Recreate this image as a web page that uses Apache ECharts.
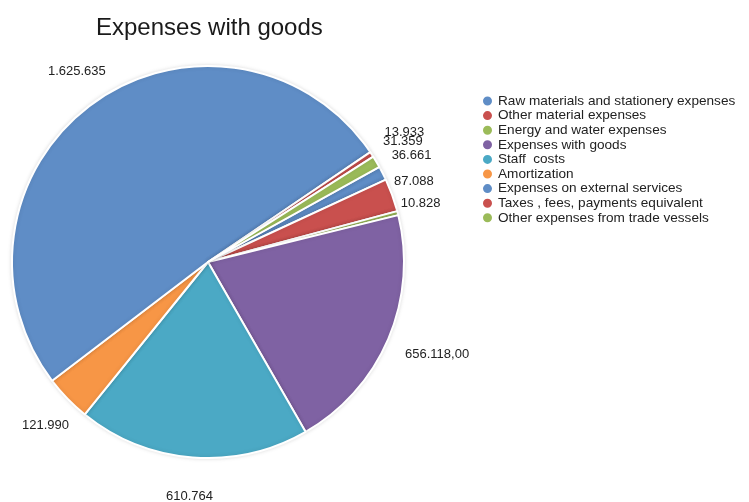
<!DOCTYPE html>
<html>
<head>
<meta charset="utf-8">
<title>Expenses with goods</title>
<script src="https://cdn.jsdelivr.net/npm/echarts@6/dist/echarts.min.js"></script>
<style>
  html, body { margin: 0; padding: 0; background: #ffffff; }
  #chart { width: 749px; height: 502px; }
</style>
</head>
<body>
<div id="chart"></div>
<script>
// Expense categories, in drawing order (clockwise)
const categories = [
  'Raw materials and stationery expenses',
  'Other material expenses',
  'Energy and water expenses',
  'Expenses with goods',
  'Staff  costs',
  'Amortization',
  'Expenses on external services',
  'Taxes , fees, payments equivalent',
  'Other expenses from trade vessels'
];
const amounts = [36661, 87088, 10828, 656118, 610764, 121990, 1625635, 13933, 31359];
const valueLabels = ['36.661', '87.088', '10.828', '656.118,00', '610.764', '121.990', '1.625.635', '13.933', '31.359'];

const palette = ['#5f8dc6', '#c9504e', '#9bbb59', '#7f62a3', '#4ba9c5', '#f79646', '#5f8dc6', '#c9504e', '#9bbb59'];

// fine adjustments of individual value labels (padding shifts the centred text)
const labelPad = {
  0: [0, 12, 0, 0],
  1: [0, 30, 0, 0],
  2: [0, 30, 0, 0],
  3: [0, 0, 0, 26],
  5: [0, 0, 0, 12],
  6: [0, 0, 0, 12],
  7: [12, 0, 0, 0],
  8: [0, 14, 0, 0]
};

const center = [208, 262];
const startAngle = 29;

const chart = echarts.init(document.getElementById('chart'), null, { renderer: 'canvas' });

const sliceData = categories.map((name, i) => ({
  name: name,
  value: amounts[i],
  itemStyle: { color: palette[i] }
}));

const labelData = categories.map((name, i) => {
  const item = { name: name, value: amounts[i] };
  if (labelPad[i]) item.label = { padding: labelPad[i] };
  return item;
});

chart.setOption({
  animation: false,
  title: {
    text: 'Expenses with goods',
    left: 91,
    top: 11,
    textStyle: {
      fontFamily: 'Liberation Sans, Arial, sans-serif',
      fontSize: 24,
      fontWeight: 'normal',
      color: '#1a1a1a'
    }
  },
  legend: {
    orient: 'vertical',
    left: 476,
    top: 89,
    icon: 'circle',
    itemWidth: 11,
    itemHeight: 11,
    itemGap: 0.6,
    data: categories,
    textStyle: {
      fontFamily: 'Liberation Sans, Arial, sans-serif',
      fontSize: 13.6,
      lineHeight: 14,
      color: '#222222'
    }
  },
  series: [
    {
      type: 'pie',
      center: center,
      radius: 196,
      startAngle: startAngle,
      clockwise: true,
      silent: true,
      label: { show: false },
      labelLine: { show: false },
      itemStyle: {
        borderColor: '#ffffff',
        borderWidth: 2,
        shadowBlur: 4,
        shadowColor: 'rgba(0,0,0,0.12)'
      },
      data: sliceData
    },
    {
      // transparent ring that carries the value labels around the pie
      type: 'pie',
      center: center,
      radius: [218, 246],
      startAngle: startAngle,
      clockwise: true,
      silent: true,
      avoidLabelOverlap: false,
      labelLayout: { hideOverlap: false },
      itemStyle: { color: 'rgba(0,0,0,0)', borderWidth: 0 },
      labelLine: { show: false },
      label: {
        show: true,
        position: 'inside',
        fontFamily: 'Liberation Sans, Arial, sans-serif',
        fontSize: 13,
        color: '#222222',
        formatter: p => valueLabels[p.dataIndex]
      },
      data: labelData
    }
  ]
});
</script>
</body>
</html>
